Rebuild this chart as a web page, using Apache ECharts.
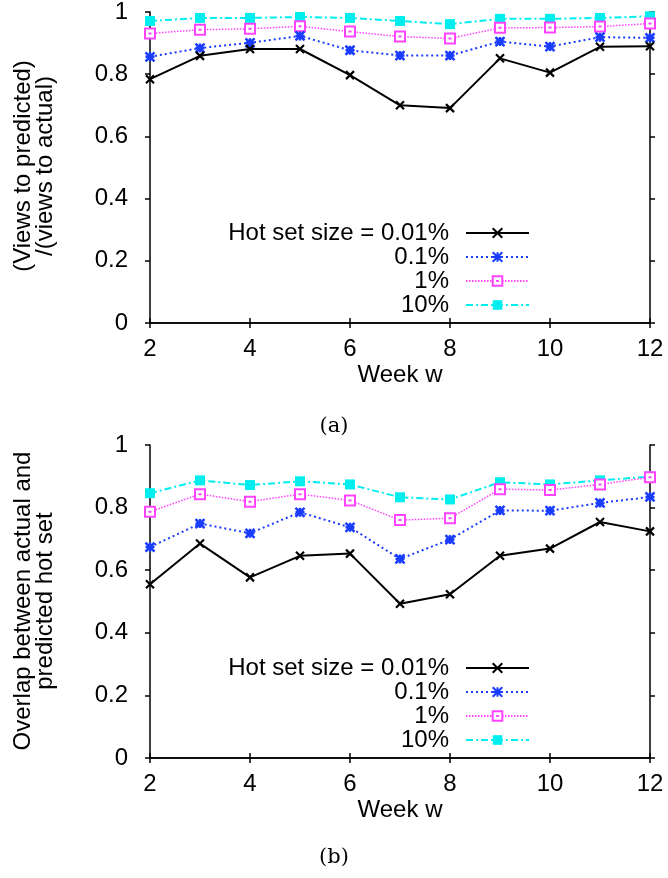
<!DOCTYPE html>
<html>
<head>
<meta charset="utf-8">
<script src="https://cdn.jsdelivr.net/npm/echarts@6/dist/echarts.min.js"></script>
<style>
html,body{margin:0;padding:0;background:#fff;}
#chart{width:668px;height:878px;}
</style>
</head>
<body>
<div id="chart"></div>
<script>
// ---- data ----
var weeks = [2, 3, 4, 5, 6, 7, 8, 9, 10, 11, 12];
var seriesNames = ['Hot set size = 0.01%', '0.1%', '1%', '10%'];
// (a) (Views to predicted)/(views to actual)
var viewsRatio001 = [0.784, 0.859, 0.881, 0.881, 0.797, 0.700, 0.691, 0.851, 0.805, 0.888, 0.890];
var viewsRatio01  = [0.856, 0.884, 0.901, 0.923, 0.877, 0.860, 0.860, 0.905, 0.889, 0.919, 0.917];
var viewsRatio1   = [0.931, 0.943, 0.946, 0.954, 0.937, 0.921, 0.915, 0.949, 0.950, 0.953, 0.963];
var viewsRatio10  = [0.971, 0.981, 0.981, 0.984, 0.981, 0.971, 0.961, 0.978, 0.978, 0.981, 0.986];
// (b) Overlap between actual and predicted hot set
var overlap001 = [0.555, 0.685, 0.577, 0.646, 0.653, 0.493, 0.523, 0.646, 0.669, 0.754, 0.724];
var overlap01  = [0.674, 0.749, 0.718, 0.785, 0.737, 0.636, 0.698, 0.791, 0.790, 0.815, 0.834];
var overlap1   = [0.787, 0.843, 0.819, 0.843, 0.823, 0.760, 0.766, 0.859, 0.856, 0.874, 0.897];
var overlap10  = [0.846, 0.887, 0.872, 0.884, 0.874, 0.833, 0.826, 0.881, 0.874, 0.887, 0.899];

var FONT = 'Liberation Sans';
var FS = 24;
var chart = echarts.init(document.getElementById('chart'), null, {renderer: 'canvas'});

var styles = [
  {color: '#000000', line: {width: 2, type: 'solid'}, symbol: 'path://M0,0L10,10M10,0L0,10', size: 8, bw: 2.2, fill: '#000000'},
  {color: '#1a3cff', line: {width: 2, type: [2, 3]}, symbol: 'path://M0,0L10,10M10,0L0,10M5,0L5,10M0,5L10,5', size: 9, bw: 2.5, fill: '#1a3cff'},
  {color: '#ff44ff', line: {width: 1.5, type: [1.5, 1.5]}, symbol: 'path://M0,0L10,0L10,10L0,10Z M3.5,5L6.5,5', size: 10, bw: 2, fill: '#ffffff'},
  {color: '#00eeee', line: {width: 2, type: [7, 3, 2, 3]}, symbol: 'rect', size: 10, bw: 0, fill: '#00eeee'}
];

function mk(arr, k, gi) {
  var s = styles[k];
  return {
    type: 'line', name: seriesNames[k], xAxisIndex: gi * 2, yAxisIndex: gi * 2,
    data: weeks.map(function (w, i) { return [w, arr[i]]; }),
    symbol: s.symbol, symbolSize: s.size, showAllSymbol: true, clip: false,
    lineStyle: {color: s.color, width: s.line.width, type: s.line.type},
    itemStyle: {color: s.fill, borderColor: s.color, borderWidth: s.bw},
    emphasis: {disabled: true}, animation: false, z: 10 - k
  };
}

var grids = [
  {left: 150, top: 10, width: 500, height: 313},
  {left: 150, top: 445, width: 500, height: 313}
];

var xAxes = [], yAxes = [];
grids.forEach(function (g, gi) {
  var base = {
    type: 'value', gridIndex: gi, min: 2, max: 12, interval: 2,
    axisLine: {show: true, lineStyle: {color: '#000', width: 1.5}},
    axisTick: {show: true, inside: false, length: 5, lineStyle: {color: '#000', width: 1.5}},
    splitLine: {show: false}
  };
  xAxes.push(Object.assign({}, base, {
    position: 'bottom',
    axisLabel: {show: true, color: '#000', fontSize: FS, fontFamily: FONT, margin: 14},
    name: 'Week w', nameLocation: 'middle', nameGap: 40,
    nameTextStyle: {color: '#000', fontSize: FS, fontFamily: FONT}
  }));
  xAxes.push(Object.assign({}, base, {position: 'top', axisLabel: {show: false}}));
  var ybase = {
    type: 'value', gridIndex: gi, min: 0, max: 1, interval: 0.2,
    axisLine: {show: true, lineStyle: {color: '#000', width: 1.5}},
    axisTick: {show: true, inside: false, length: 5, lineStyle: {color: '#000', width: 1.5}},
    splitLine: {show: false}
  };
  yAxes.push(Object.assign({}, ybase, {
    position: 'left',
    axisLabel: {show: true, color: '#000', fontSize: FS, fontFamily: FONT, margin: 22}
  }));
  yAxes.push(Object.assign({}, ybase, {position: 'right', axisLabel: {show: false}}));
});

function legend(top) {
  return {
    orient: 'vertical', align: 'right', right: 138, top: top, padding: 0,
    itemWidth: 63, itemHeight: 12, itemGap: 0, selectedMode: false,
    data: seriesNames,
    textStyle: {color: '#000', fontSize: FS, fontFamily: FONT, lineHeight: 24, padding: [0, 12, 0, 0]}
  };
}

var option = {
  backgroundColor: '#fff',
  animation: false,
  grid: grids,
  xAxis: xAxes,
  yAxis: yAxes,
  legend: [legend(221), legend(656)],
  series: [
    mk(viewsRatio001, 0, 0), mk(viewsRatio01, 1, 0), mk(viewsRatio1, 2, 0), mk(viewsRatio10, 3, 0),
    mk(overlap001, 0, 1), mk(overlap01, 1, 1), mk(overlap1, 2, 1), mk(overlap10, 3, 1)
  ],
  graphic: [
    {type: 'text', x: 34, y: 166, rotation: Math.PI / 2,
     style: {text: '(Views to predicted)\n/(views to actual)', fill: '#000', font: FS + 'px "' + FONT + '"', align: 'center', verticalAlign: 'middle', lineHeight: 22}},
    {type: 'text', x: 34, y: 601, rotation: Math.PI / 2,
     style: {text: 'Overlap between actual and\npredicted hot set', fill: '#000', font: FS + 'px "' + FONT + '"', align: 'center', verticalAlign: 'middle', lineHeight: 22}},
    {type: 'text', x: 334, y: 427,
     style: {text: '(a)', fill: '#000', font: '21px "DejaVu Serif"', align: 'center', verticalAlign: 'middle'}},
    {type: 'text', x: 334, y: 858,
     style: {text: '(b)', fill: '#000', font: '21px "DejaVu Serif"', align: 'center', verticalAlign: 'middle'}}
  ]
};
chart.setOption(option);
</script>
</body>
</html>
